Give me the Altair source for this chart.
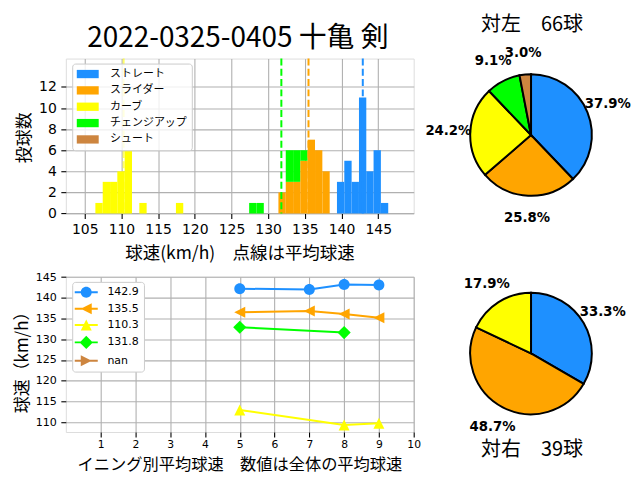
import altair as alt
import pandas as pd

# ---------------- data ----------------
TITLE = "2022-0325-0405 十亀 剣"
PITCH_TYPES = ["ストレート", "スライダー", "カーブ", "チェンジアップ", "シュート"]
TYPE_COLORS = ["#1E90FF", "#FFA500", "#FFFF00", "#00FF00", "#CD853F"]

# histogram bins (left edge in km/h) and counts per pitch type
BIN_WIDTH = 0.998
STRAIGHT_BIN_LEFT = [139.38, 140.38, 141.38, 142.38, 143.37, 144.37, 145.37]
STRAIGHT_COUNTS = [3, 5, 3, 11, 4, 6, 1]
SLIDER_BIN_LEFT = [131.40, 132.40, 133.40, 134.39, 135.39, 136.39, 137.39]
SLIDER_COUNTS = [2, 3, 3, 5, 7, 6, 4]
CURVE_BIN_LEFT = [106.45, 107.45, 108.45, 109.44, 110.44, 112.44, 117.43]
CURVE_COUNTS = [1, 3, 3, 4, 6, 1, 1]
CHANGE_BIN_LEFT = [127.41, 128.41, 132.40, 133.40, 134.39]
CHANGE_COUNTS = [1, 1, 3, 3, 1]

MEAN_TYPES = ["ストレート", "スライダー", "カーブ", "チェンジアップ"]
MEAN_SPEEDS = [142.9, 135.5, 110.3, 131.8]

HIST_X_TICKS = [105, 110, 115, 120, 125, 130, 135, 140, 145]
HIST_Y_TICKS = [0, 2, 4, 6, 8, 10, 12]
HIST_X_TITLE = "球速(km/h)　点線は平均球速"
HIST_Y_TITLE = "投球数"

# inning averages
LINE_LABELS = ["142.9", "135.5", "110.3", "131.8", "nan"]
STRAIGHT_INN = [5, 7, 8, 9]
STRAIGHT_AVG = [142.2, 142.0, 143.2, 143.1]
SLIDER_INN = [5, 7, 8, 9]
SLIDER_AVG = [136.5, 136.8, 136.1, 135.2]
CURVE_INN = [5, 8, 9]
CURVE_AVG = [112.9, 109.3, 109.7]
CHANGE_INN = [5, 8]
CHANGE_AVG = [132.9, 131.6]
LINE_X_TICKS = [1, 2, 3, 4, 5, 6, 7, 8, 9, 10]
LINE_Y_TICKS = [110, 115, 120, 125, 130, 135, 140, 145]
LINE_X_TITLE = "イニング別平均球速　数値は全体の平均球速"
LINE_Y_TITLE = "球速（km/h）"

# pies
LEFT_TITLE = "対左　66球"
LEFT_COUNTS = [25, 17, 16, 6, 2]
LEFT_PCT = ["37.9%", "25.8%", "24.2%", "9.1%", "3.0%"]
RIGHT_TITLE = "対右　39球"
RIGHT_COUNTS = [13, 19, 7]
RIGHT_PCT = ["33.3%", "48.7%", "17.9%"]

# ---------------- styling / layout ----------------
JP = "Noto Sans CJK JP"
LAT = "DejaVu Sans"
GRID = "#b0b0b0"
W = 349
H1 = 155.4
H2 = 155.8
PIE_CX = 466.7
PIE_R = 61
PIE_LABEL_R = 83

MARKERS = [
    "M1,0A1,1,0,1,1,-1,0A1,1,0,1,1,1,0Z",        # circle
    "M-1,0L1,-1L1,1Z",                          # triangle left
    "M0,-1L1,1L-1,1Z",                          # triangle up
    "M0,-1.2L1.2,0L0,1.2L-1.2,0Z",              # diamond
    "M1,0L-1,1L-1,-1Z",                         # triangle right
]
LINE_SEG = " M-2.1,-0.18H2.1V0.18H-2.1Z"
LEGEND_PATHS = [m + LINE_SEG for m in MARKERS]
RECT_PATH = "M-2.75,-1.04H2.75V1.04H-2.75Z"

# ---------------- tables ----------------
rows = []
for i, (lefts, counts) in enumerate([
    (STRAIGHT_BIN_LEFT, STRAIGHT_COUNTS),
    (SLIDER_BIN_LEFT, SLIDER_COUNTS),
    (CURVE_BIN_LEFT, CURVE_COUNTS),
    (CHANGE_BIN_LEFT, CHANGE_COUNTS),
]):
    for l, c in zip(lefts, counts):
        rows.append({"type": PITCH_TYPES[i], "idx": i, "left": l,
                     "right": round(l + BIN_WIDTH, 3), "count": c})
hist_df = pd.DataFrame(rows).sort_values(["left", "idx"]).reset_index(drop=True)
# stacked histogram: each bar sits on the bars of earlier pitch types in the same bin
hist_df["top"] = hist_df.groupby("left")["count"].cumsum()
hist_df["base"] = hist_df["top"] - hist_df["count"]

mean_df = pd.DataFrame({"type": MEAN_TYPES, "mean": MEAN_SPEEDS,
                        "col": TYPE_COLORS[:4],
                        "op": [1, 1, 0.6, 1]})

line_rows = []
for i, (inn, avg) in enumerate([
    (STRAIGHT_INN, STRAIGHT_AVG), (SLIDER_INN, SLIDER_AVG),
    (CURVE_INN, CURVE_AVG), (CHANGE_INN, CHANGE_AVG),
]):
    for a, b in zip(inn, avg):
        line_rows.append({"lab": LINE_LABELS[i], "inning": a, "speed": b,
                          "col": TYPE_COLORS[i]})
line_df = pd.DataFrame(line_rows)
legend_df = pd.DataFrame({"lab": LINE_LABELS})

pie_l = pd.DataFrame({"type": PITCH_TYPES, "idx": range(5), "count": LEFT_COUNTS,
                      "pct": LEFT_PCT, "col": TYPE_COLORS})
pie_r = pd.DataFrame({"type": PITCH_TYPES[:3], "idx": range(3), "count": RIGHT_COUNTS,
                      "pct": RIGHT_PCT, "col": TYPE_COLORS[:3]})


def axis(values, title, title_x, title_y, size, orient_left, label_font_size,
         label_padding=4.5):
    kw = dict(values=values, title=title, grid=True, gridColor=GRID, gridWidth=1.1,
              domain=False, tickColor="black", tickSize=5, tickWidth=1.1,
              labelFont=LAT, labelFontSize=label_font_size, labelColor="black",
              labelPadding=label_padding, labelOverlap=False, labelFlush=False,
              titleFont=JP, titleFontSize=size,
              titleFontWeight="normal", titleColor="black",
              titleX=title_x, titleY=title_y, titleAlign="center",
              titleBaseline="middle")
    if orient_left:
        kw["titleAngle"] = 270
    return alt.Axis(**kw)


# ---------------- histogram panel ----------------
hist_x = alt.X("left:Q", scale=alt.Scale(domain=[102.42, 149.84], nice=False, zero=False),
               axis=axis(HIST_X_TICKS, HIST_X_TITLE, 174.2, 40.3, 17.5, False, 14))
hist_y = alt.Y("top:Q", scale=alt.Scale(domain=[0, 14.69], nice=False),
               axis=axis(HIST_Y_TICKS, HIST_Y_TITLE, -41.3, 79, 17, True, 14))

bars = alt.Chart(hist_df).mark_bar(opacity=1).encode(
    x=hist_x, x2="right:Q", y=hist_y, y2="base:Q",
    color=alt.Color("type:N", scale=alt.Scale(domain=PITCH_TYPES, range=TYPE_COLORS),
                    legend=alt.Legend(title=None, orient="none", legendX=6.4, legendY=5,
                                      symbolType=RECT_PATH, symbolSize=64,
                                      symbolStrokeWidth=0, symbolOffset=5.1,
                                      labelOffset=16.9, padding=5, rowPadding=4.4,
                                      labelFont=JP, labelFontSize=11, labelColor="black",
                                      fillColor="rgba(255,255,255,0.8)",
                                      strokeColor="#cccccc", cornerRadius=3)),
)

rules = alt.Chart(mean_df).mark_rule(strokeWidth=2, strokeDash=[7, 3.3]).encode(
    x="mean:Q",
    stroke=alt.Stroke("col:N", scale=None),
    opacity=alt.Opacity("op:Q", scale=None),
)

pie1_base = alt.Chart(pie_l).encode(
    theta=alt.Theta("count:Q", stack=True),
    order=alt.Order("idx:Q"),
    x=alt.value(PIE_CX), y=alt.value(76.7),
)
pie1 = pie1_base.mark_arc(radius=PIE_R, stroke="black", strokeWidth=2).encode(
    fill=alt.Fill("col:N", scale=None))
pie1_txt = pie1_base.mark_text(radius=PIE_LABEL_R, font=LAT, fontWeight="bold",
                               fontSize=13.3, color="black").encode(text="pct:N")
pie1_title = alt.Chart(pd.DataFrame({"t": [LEFT_TITLE]})).mark_text(
    font=JP, fontSize=20, color="black").encode(
    text="t:N", x=alt.value(PIE_CX + 1), y=alt.value(-33.3))
main_title = alt.Chart(pd.DataFrame({"t": [TITLE]})).mark_text(
    font=JP, fontSize=28, color="black").encode(
    text="t:N", x=alt.value(172.7), y=alt.value(-19.3))

hist_panel = alt.layer(bars, rules, pie1, pie1_txt, pie1_title, main_title).properties(
    width=W, height=H1)

# ---------------- inning line panel ----------------
line_x = alt.X("inning:Q", scale=alt.Scale(domain=[0, 10], nice=False),
               axis=axis(LINE_X_TICKS, LINE_X_TITLE, 174.2, 32.2, 16.3, False, 10.8,
                         label_padding=1.2))
line_y = alt.Y("speed:Q", scale=alt.Scale(domain=[107.6, 145.1], nice=False, zero=False),
               axis=axis(LINE_Y_TICKS, LINE_Y_TITLE, -43.8, 81.5, 17, True, 11.1))

lines = alt.Chart(line_df).mark_line(strokeWidth=2).encode(
    x=line_x, y=line_y, stroke=alt.Stroke("col:N", scale=None), detail="lab:N")

point_layers = []
for i, lab in enumerate(LINE_LABELS[:4]):
    point_layers.append(
        alt.Chart(line_df).transform_filter(alt.datum.lab == lab).mark_point(
            shape=MARKERS[i], filled=True, size=121, opacity=1, strokeWidth=0).encode(
            x=line_x, y=line_y, fill=alt.Fill("col:N", scale=None)))

line_legend = alt.Legend(title=None, orient="none", legendX=6.4, legendY=5.2,
                         symbolSize=121, symbolStrokeWidth=0, symbolOffset=3.6,
                         labelOffset=15.7, padding=5, rowPadding=4.4,
                         labelFont=LAT, labelFontSize=11, labelColor="black",
                         fillColor="white", strokeColor="#cccccc",
                         cornerRadius=3)
# legend carrier: its own marks sit underneath the opaque legend box
legend_layer = alt.Chart(legend_df).mark_point(filled=True, opacity=1, size=121).encode(
    x=alt.value(24), y=alt.value(24),
    color=alt.Color("lab:N", scale=alt.Scale(domain=LINE_LABELS, range=TYPE_COLORS),
                    legend=line_legend),
    shape=alt.Shape("lab:N", scale=alt.Scale(domain=LINE_LABELS, range=LEGEND_PATHS),
                    legend=line_legend),
)

pie2_base = alt.Chart(pie_r).encode(
    theta=alt.Theta("count:Q", stack=True),
    order=alt.Order("idx:Q"),
    x=alt.value(PIE_CX), y=alt.value(77),
)
pie2 = pie2_base.mark_arc(radius=PIE_R, stroke="black", strokeWidth=2).encode(
    fill=alt.Fill("col:N", scale=None))
pie2_txt = pie2_base.mark_text(radius=PIE_LABEL_R, font=LAT, fontWeight="bold",
                               fontSize=13.3, color="black").encode(text="pct:N")
pie2_title = alt.Chart(pd.DataFrame({"t": [RIGHT_TITLE]})).mark_text(
    font=JP, fontSize=20, color="black").encode(
    text="t:N", x=alt.value(PIE_CX + 1), y=alt.value(173.5))

line_panel = alt.layer(legend_layer, lines, *point_layers, pie2, pie2_txt,
                       pie2_title).properties(width=W, height=H2)

chart = alt.vconcat(hist_panel, line_panel, spacing=62.8, bounds="flush").resolve_scale(
    color="independent", shape="independent", theta="independent"
).properties(
    padding={"left": 4, "top": 6, "right": 0, "bottom": 0}
).configure_view(stroke="black", strokeWidth=1.1).configure(background="white")

chart.save("out.html", embed_options={"renderer": "svg", "actions": False})
